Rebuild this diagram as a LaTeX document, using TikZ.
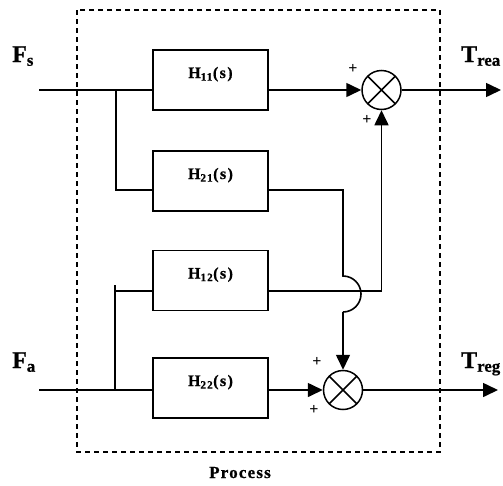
\documentclass[tikz,border=0pt]{standalone}
\usepackage{fontspec}
\setmainfont{Liberation Serif}
\newfontfamily\lblfont[LetterSpace=9,FakeBold=0.8]{Liberation Serif Bold}
\newfontfamily\procfont[LetterSpace=7,FakeBold=0.8]{Liberation Serif Bold}
\newfontfamily\iofont[FakeBold=0.8]{Liberation Serif Bold}
\usetikzlibrary{arrows.meta,calc}
\tikzset{
  ln/.style={line width=1.6pt},
  arr/.style={ln,-{Triangle[length=15pt,width=14pt]}},
  blk/.style={draw,line width=1.5pt,minimum width=115pt,minimum height=60pt,inner sep=0pt,
    text height=28pt,text depth=32pt,font=\lblfont\fontsize{16}{16}\selectfont},
  sumnode/.style={circle,draw,line width=1.5pt,minimum size=39pt,inner sep=0pt,
    path picture={\draw[line width=1.5pt]
      (path picture bounding box.north west) -- (path picture bounding box.south east)
      (path picture bounding box.north east) -- (path picture bounding box.south west);}},
  io/.style={anchor=base west,inner sep=0pt,font=\iofont\fontsize{24}{24}\selectfont},
  pl/.style={inner sep=0pt,font=\bfseries\fontsize{16}{16}\selectfont},
}
\begin{document}
\begin{tikzpicture}[x=1pt,y=1pt]
\useasboundingbox (0,0) rectangle (503,-485);
% process frame
\draw[line width=1.4pt,dash pattern=on 5pt off 4pt] (77,-10) rectangle (440,-452);
\node[anchor=base,inner sep=0pt,font=\procfont\fontsize{17}{17}\selectfont] (proc) at (240,-478) {Process};
% blocks
\node[blk] (H11) at (210.5,-80) {H\textsubscript{11}(s)};
\node[blk] (H21) at (210.5,-181) {H\textsubscript{21}(s)};
\node[blk] (H12) at (210.5,-280.5) {H\textsubscript{12}(s)};
\node[blk] (H22) at (210.5,-388) {H\textsubscript{22}(s)};
% summing junctions
\node[sumnode] (S1) at (381.5,-90) {};
\node[sumnode] (S2) at (343,-390) {};
% labels
\node[io] (Fs) at (12,-62) {F\textsubscript{s}};
\node[io] (Trea) at (461,-62) {T\textsubscript{rea}};
\node[io] (Fa) at (12,-368) {F\textsubscript{a}};
\node[io] (Treg) at (461,-368) {T\textsubscript{reg}};
\node[pl] (p1) at (353,-69) {+};
\node[pl] (p2) at (367,-120) {+};
\node[pl] (p3) at (317,-362) {+};
\node[pl] (p4) at (314,-410) {+};
% coordinates
\coordinate (fsin) at (39,-90);
\coordinate (fain) at (39,-390);
\coordinate (b1) at (116,-90);
\coordinate (b2) at (115,-390);
\coordinate (b2top) at (115,-285);
\coordinate (jtop) at (343,-276);
\coordinate (jbot) at (343,-312);
\coordinate (out1) at (501,-90);
\coordinate (out2) at (498,-390);
% connectors
\draw[ln] (fsin) -- (H11.west |- fsin);
\draw[arr] (H11.east |- S1) -- (S1.west);
\draw[ln] (b1) |- (H21.west |- 0,-190);
\draw[ln] (H21.east |- 0,-190) -| (jtop) arc[start angle=90,end angle=-90,radius=18pt];
\draw[arr] (jbot) -- (S2.north);
\draw[arr] (H12.east |- 0,-291) -| (S1.south);
\draw[ln] (fain) -- (H22.west |- fain);
\draw[ln] (b2top) -- (b2);
\draw[ln] (b2top |- 0,-291) -- (H12.west |- 0,-291);
\draw[arr] (H22.east |- S2) -- (S2.west);
\draw[arr] (S1.east) -- (out1);
\draw[arr] (S2.east) -- (out2);
\end{tikzpicture}
\end{document}
